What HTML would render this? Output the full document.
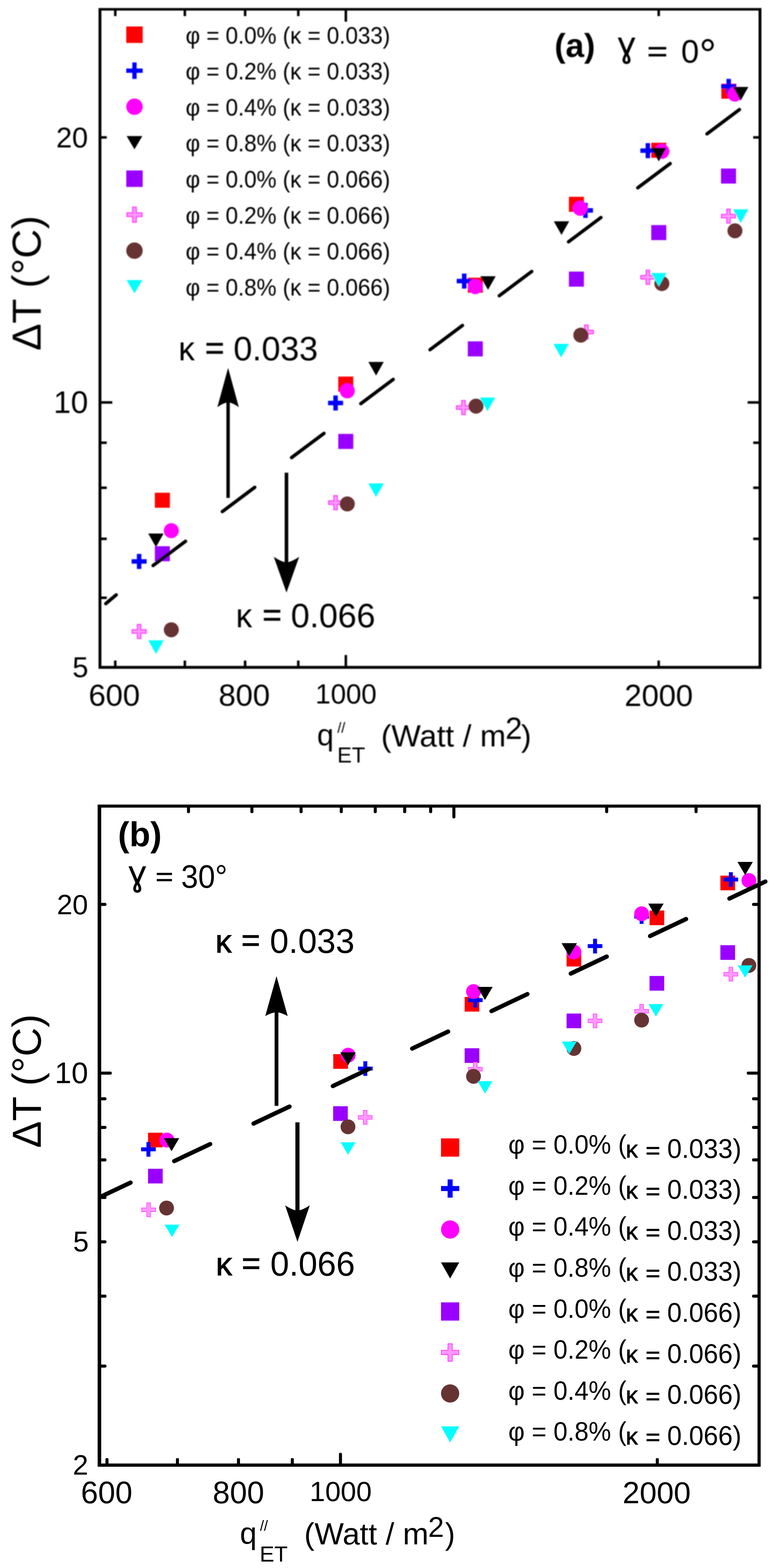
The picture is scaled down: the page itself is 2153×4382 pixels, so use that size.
<!DOCTYPE html>
<html lang="en">
<head>
<meta charset="utf-8">
<title>Temperature difference versus heat flux</title>
<style>
html,body{margin:0;padding:0;background:#fff;}
body{width:2153px;height:4382px;overflow:hidden;}
svg{display:block;}
text{font-family:"Liberation Sans", sans-serif;fill:#000;}
</style>
</head>
<body>
<svg width="2153" height="4382" viewBox="0 0 2153 4382">
<defs><filter id="soft" x="0" y="0" width="2153" height="2200" filterUnits="userSpaceOnUse"><feGaussianBlur stdDeviation="1.4"/></filter></defs>
<rect width="2153" height="4382" fill="#fff"/>
<g id="plot-a" filter="url(#soft)">
<rect x="433" y="1377" width="42" height="42" fill="#ff0000"/>
<rect x="945.8" y="1052.4" width="42" height="42" fill="#ff0000"/>
<rect x="1308" y="776" width="42" height="42" fill="#ff0000"/>
<rect x="1590.7" y="550" width="42" height="42" fill="#ff0000"/>
<rect x="1821" y="399" width="42" height="42" fill="#ff0000"/>
<rect x="2017" y="233.8" width="42" height="42" fill="#ff0000"/>
<path d="M382.75 1548h12.5v14.75h14.75v12.5h-14.75v14.75h-12.5v-14.75h-14.75v-12.5h14.75Z" fill="#0000ff"/>
<path d="M932.05 1105.2h12.5v14.75h14.75v12.5h-14.75v14.75h-12.5v-14.75h-14.75v-12.5h14.75Z" fill="#0000ff"/>
<path d="M1291.75 764.5h12.5v14.75h14.75v12.5h-14.75v14.75h-12.5v-14.75h-14.75v-12.5h14.75Z" fill="#0000ff"/>
<path d="M1630.75 567h12.5v14.75h14.75v12.5h-14.75v14.75h-12.5v-14.75h-14.75v-12.5h14.75Z" fill="#0000ff"/>
<path d="M1805.25 400h12.5v14.75h14.75v12.5h-14.75v14.75h-12.5v-14.75h-14.75v-12.5h14.75Z" fill="#0000ff"/>
<path d="M2031.25 220.4h12.5v14.75h14.75v12.5h-14.75v14.75h-12.5v-14.75h-14.75v-12.5h14.75Z" fill="#0000ff"/>
<circle cx="479" cy="1483" r="21" fill="#ff00ff"/>
<circle cx="971.1" cy="1092.3" r="21" fill="#ff00ff"/>
<circle cx="1329" cy="801" r="21" fill="#ff00ff"/>
<circle cx="1622" cy="582" r="21" fill="#ff00ff"/>
<circle cx="1850.6" cy="423" r="21" fill="#ff00ff"/>
<circle cx="2055" cy="263" r="21" fill="#ff00ff"/>
<path d="M414.5 1491H457.5L436 1529Z" fill="#000000"/>
<path d="M1030 1011.5H1073L1051.5 1049.5Z" fill="#000000"/>
<path d="M1343 772H1386L1364.5 810Z" fill="#000000"/>
<path d="M1548.5 618.5H1591.5L1570 656.5Z" fill="#000000"/>
<path d="M1820.5 413H1863.5L1842 451Z" fill="#000000"/>
<path d="M2049.5 243H2092.5L2071 281Z" fill="#000000"/>
<rect x="433" y="1526.5" width="42" height="42" fill="#9900ff"/>
<rect x="945.8" y="1212.6" width="42" height="42" fill="#9900ff"/>
<rect x="1308" y="954" width="42" height="42" fill="#9900ff"/>
<rect x="1590.7" y="759" width="42" height="42" fill="#9900ff"/>
<rect x="1821" y="629" width="42" height="42" fill="#9900ff"/>
<rect x="2016" y="471" width="42" height="42" fill="#9900ff"/>
<path d="M384.25 1745.2h9.5v14.75h14.75v9.5h-14.75v14.75h-9.5v-14.75h-14.75v-9.5h14.75Z" fill="#ff99ff" stroke="#ff33ff" stroke-width="3"/>
<path d="M933.55 1385.3h9.5v14.75h14.75v9.5h-14.75v14.75h-9.5v-14.75h-14.75v-9.5h14.75Z" fill="#ff99ff" stroke="#ff33ff" stroke-width="3"/>
<path d="M1291.25 1119.5h9.5v14.75h14.75v9.5h-14.75v14.75h-9.5v-14.75h-14.75v-9.5h14.75Z" fill="#ff99ff" stroke="#ff33ff" stroke-width="3"/>
<path d="M1634.75 908.5h9.5v14.75h14.75v9.5h-14.75v14.75h-9.5v-14.75h-14.75v-9.5h14.75Z" fill="#ff99ff" stroke="#ff33ff" stroke-width="3"/>
<path d="M1806.75 755.5h9.5v14.75h14.75v9.5h-14.75v14.75h-9.5v-14.75h-14.75v-9.5h14.75Z" fill="#ff99ff" stroke="#ff33ff" stroke-width="3"/>
<path d="M2032.25 584.5h9.5v14.75h14.75v9.5h-14.75v14.75h-9.5v-14.75h-14.75v-9.5h14.75Z" fill="#ff99ff" stroke="#ff33ff" stroke-width="3"/>
<circle cx="479" cy="1760" r="21" fill="#663333"/>
<circle cx="971.1" cy="1408.3" r="21" fill="#663333"/>
<circle cx="1331" cy="1135" r="21" fill="#663333"/>
<circle cx="1624" cy="936.6" r="21" fill="#663333"/>
<circle cx="1850.6" cy="792.4" r="21" fill="#663333"/>
<circle cx="2055" cy="645" r="21" fill="#663333"/>
<path d="M414.5 1789.5H457.5L436 1827.5Z" fill="#00ffff"/>
<path d="M1030 1351H1073L1051.5 1389Z" fill="#00ffff"/>
<path d="M1341.5 1111H1384.5L1363 1149Z" fill="#00ffff"/>
<path d="M1547.5 961H1590.5L1569 999Z" fill="#00ffff"/>
<path d="M1820.5 763H1863.5L1842 801Z" fill="#00ffff"/>
<path d="M2049.5 585H2092.5L2071 623Z" fill="#00ffff"/>
<path d="M295.7 1687L325 1662.4M428 1580.5L518.7 1512.7M621.6 1429.7L712.3 1361.9M815.2 1278.9L905.9 1211.1M1008.8 1128.1L1099.5 1060.3M1202.4 977.3L1293.1 909.5M1396 826.5L1486.7 758.7M1589.6 675.7L1680.3 607.9M1783.2 524.9L1873.9 457.1M1976.8 374.1L2067.5 306.3" stroke="#000" stroke-width="9.5" stroke-linecap="round" fill="none"/>
<rect x="353" y="74" width="46" height="46" fill="#ff0000"/>
<text x="519" y="121.5" font-size="66" textLength="572" lengthAdjust="spacingAndGlyphs">φ = 0.0% (κ = 0.033)</text>
<path d="M370 174.6h12v17h17v12h-17v17h-12v-17h-17v-12h17Z" fill="#0000ff"/>
<text x="519" y="222.1" font-size="66" textLength="572" lengthAdjust="spacingAndGlyphs">φ = 0.2% (κ = 0.033)</text>
<circle cx="376" cy="298.2" r="23" fill="#ff00ff"/>
<text x="519" y="322.7" font-size="66" textLength="572" lengthAdjust="spacingAndGlyphs">φ = 0.4% (κ = 0.033)</text>
<path d="M354 380.3H398L376 417.3Z" fill="#000000"/>
<text x="519" y="423.3" font-size="66" textLength="572" lengthAdjust="spacingAndGlyphs">φ = 0.8% (κ = 0.033)</text>
<rect x="353" y="476.4" width="46" height="46" fill="#9900ff"/>
<text x="519" y="523.9" font-size="66" textLength="572" lengthAdjust="spacingAndGlyphs">φ = 0.0% (κ = 0.066)</text>
<path d="M371 579h10v16h16v10h-16v16h-10v-16h-16v-10h16Z" fill="#ff99ff" stroke="#ff33ff" stroke-width="3"/>
<text x="519" y="624.5" font-size="66" textLength="572" lengthAdjust="spacingAndGlyphs">φ = 0.2% (κ = 0.066)</text>
<circle cx="376" cy="700.6" r="23" fill="#663333"/>
<text x="519" y="725.1" font-size="66" textLength="572" lengthAdjust="spacingAndGlyphs">φ = 0.4% (κ = 0.066)</text>
<path d="M354 782.7H398L376 819.7Z" fill="#00ffff"/>
<text x="519" y="825.7" font-size="66" textLength="572" lengthAdjust="spacingAndGlyphs">φ = 0.8% (κ = 0.066)</text>
<path d="M637.8 1391.5V1122" stroke="#000" stroke-width="9.5" fill="none"/><path d="M637.8 1028Q622.8 1083 607.8 1138Q624.3 1126.1 637.8 1124Q651.3 1126.1 667.8 1138Q652.8 1083 637.8 1028Z" fill="#000"/>
<path d="M801 1321V1574" stroke="#000" stroke-width="10" fill="none"/><path d="M801 1656Q783.25 1606 765.5 1556Q785.02 1569.6 801 1572Q816.98 1569.6 836.5 1556Q818.75 1606 801 1656Z" fill="#000"/>
<text transform="translate(499.07 1006.5) scale(0.9700 1.0000)" font-size="94">κ</text>
<text transform="translate(573.41 1002.88) scale(1 0.9605)" font-size="91.75" stroke="#000" stroke-width="1.6">=</text>
<text transform="translate(652.72 1006.5) scale(1.0045 1.0000)" font-size="94">0.033</text>
<text transform="translate(659.57 1753) scale(0.9700 1.0000)" font-size="94">κ</text>
<text transform="translate(733.91 1749.38) scale(1 0.9605)" font-size="91.75" stroke="#000" stroke-width="1.6">=</text>
<text transform="translate(813.22 1753) scale(1.0045 1.0000)" font-size="94">0.066</text>
<text x="1550.5" y="159" font-size="93" font-weight="bold">(a)</text>
<text x="1727" y="158" font-size="100">ɣ</text>
<text transform="translate(1809.58 170.28) scale(1 0.7944)" font-size="98.35" stroke="#000" stroke-width="1.6">=</text>
<text x="1904.4" y="174.5" font-size="90">0</text>
<text x="1955.1" y="194.2" font-size="120">°</text>
<rect x="318.81" y="26" width="7" height="19" rx="0" fill="#000"/>
<rect x="318.81" y="1846" width="7" height="19" rx="0" fill="#000"/>
<rect x="513.35" y="26" width="7" height="19" rx="0" fill="#000"/>
<rect x="513.35" y="1846" width="7" height="19" rx="0" fill="#000"/>
<rect x="681.88" y="26" width="7" height="19" rx="0" fill="#000"/>
<rect x="681.88" y="1846" width="7" height="19" rx="0" fill="#000"/>
<rect x="830.53" y="26" width="7" height="19" rx="0" fill="#000"/>
<rect x="830.53" y="1846" width="7" height="19" rx="0" fill="#000"/>
<rect x="963.5" y="26" width="7" height="34.5" rx="0" fill="#000"/>
<rect x="963.5" y="1830.5" width="7" height="34.5" rx="0" fill="#000"/>
<rect x="1838.29" y="26" width="7" height="19" rx="0" fill="#000"/>
<rect x="1838.29" y="1846" width="7" height="19" rx="0" fill="#000"/>
<rect x="279.5" y="380.5" width="19" height="7" rx="0" fill="#000"/>
<rect x="2106" y="380.5" width="19" height="7" rx="0" fill="#000"/>
<rect x="279.5" y="1121.18" width="34.5" height="7" rx="0" fill="#000"/>
<rect x="2090.5" y="1121.18" width="34.5" height="7" rx="0" fill="#000"/>
<rect x="279.5" y="1233.77" width="19" height="7" rx="0" fill="#000"/>
<rect x="2106" y="1233.77" width="19" height="7" rx="0" fill="#000"/>
<rect x="279.5" y="1359.63" width="19" height="7" rx="0" fill="#000"/>
<rect x="2106" y="1359.63" width="19" height="7" rx="0" fill="#000"/>
<rect x="279.5" y="1502.32" width="19" height="7" rx="0" fill="#000"/>
<rect x="2106" y="1502.32" width="19" height="7" rx="0" fill="#000"/>
<rect x="279.5" y="1667.04" width="19" height="7" rx="0" fill="#000"/>
<rect x="2106" y="1667.04" width="19" height="7" rx="0" fill="#000"/>
<path fill-rule="evenodd" fill="#000" d="M275.5 22.4H2129V1869H275.5ZM283.5 29.6V1861H2121V29.6Z"/>
<text x="246" y="411.5" font-size="80" text-anchor="end">20</text>
<text x="246.5" y="1154" font-size="87" text-anchor="end">10</text>
<text x="247" y="1891.5" font-size="80" text-anchor="end">5</text>
<text x="319.5" y="1972" font-size="86" text-anchor="middle">600</text>
<text x="683" y="1972" font-size="86" text-anchor="middle">800</text>
<text x="967.5" y="1965.5" font-size="77" text-anchor="middle">1000</text>
<text x="1842" y="1973" font-size="86" text-anchor="middle">2000</text>
<text transform="translate(113.5 980) rotate(-90)" font-size="113.5">ΔT (°C)</text>
<text x="886.5" y="2083" font-size="84">q</text>
<text x="943.2" y="2047.5" font-size="40">//</text>
<text x="943" y="2131" font-size="61">ET</text>
<text x="1065.5" y="2085.5" font-size="86" textLength="349" lengthAdjust="spacingAndGlyphs">(Watt / m</text>
<text x="1413" y="2065" font-size="85">2</text>
<text x="1457" y="2085.5" font-size="86">)</text>
</g>
<g id="plot-b">
<rect x="413.9" y="3165.5" width="41" height="41" fill="#ff0000"/>
<rect x="931.9" y="2945.9" width="41" height="41" fill="#ff0000"/>
<rect x="1299.2" y="2786" width="41" height="41" fill="#ff0000"/>
<rect x="1584.2" y="2660" width="41" height="41" fill="#ff0000"/>
<rect x="1816.2" y="2544.5" width="41" height="41" fill="#ff0000"/>
<rect x="2014.3" y="2447.1" width="41" height="41" fill="#ff0000"/>
<path d="M409.5 3191.5h11v15h15v11h-15v15h-11v-15h-15v-11h15Z" fill="#0000ff"/>
<path d="M1016 2965.8h11v15h15v11h-15v15h-11v-15h-15v-11h15Z" fill="#0000ff"/>
<path d="M1323.5 2774.5h11v15h15v11h-15v15h-11v-15h-15v-11h15Z" fill="#0000ff"/>
<path d="M1658.3 2623.5h11v15h15v11h-15v15h-11v-15h-15v-11h15Z" fill="#0000ff"/>
<path d="M1788.5 2540.9h11v15h15v11h-15v15h-11v-15h-15v-11h15Z" fill="#0000ff"/>
<path d="M2038 2437.5h11v15h15v11h-15v15h-11v-15h-15v-11h15Z" fill="#0000ff"/>
<circle cx="466.6" cy="3186" r="20.75" fill="#ff00ff"/>
<circle cx="973.5" cy="2948.8" r="20.75" fill="#ff00ff"/>
<circle cx="1324" cy="2771" r="20.75" fill="#ff00ff"/>
<circle cx="1604.7" cy="2660.5" r="20.75" fill="#ff00ff"/>
<circle cx="1794" cy="2553.6" r="20.75" fill="#ff00ff"/>
<circle cx="2094" cy="2460.7" r="20.75" fill="#ff00ff"/>
<path d="M458.1 3180.85H501.1L479.6 3217.35Z" fill="#000000"/>
<path d="M951.6 2941.05H994.6L973.1 2977.55Z" fill="#000000"/>
<path d="M1334.5 2758.05H1377.5L1356 2794.55Z" fill="#000000"/>
<path d="M1570.2 2635.75H1613.2L1591.7 2672.25Z" fill="#000000"/>
<path d="M1812.5 2525.15H1855.5L1834 2561.65Z" fill="#000000"/>
<path d="M2062 2408.75H2105L2083.5 2445.25Z" fill="#000000"/>
<rect x="413.9" y="3266.3" width="41" height="41" fill="#9900ff"/>
<rect x="931.5" y="3091.5" width="41" height="41" fill="#9900ff"/>
<rect x="1299.2" y="2929.5" width="41" height="41" fill="#9900ff"/>
<rect x="1584.2" y="2832.5" width="41" height="41" fill="#9900ff"/>
<rect x="1816.2" y="2727.5" width="41" height="41" fill="#9900ff"/>
<rect x="2014.3" y="2641.5" width="41" height="41" fill="#9900ff"/>
<path d="M410.35 3361.5h10.5v14.25h14.25v10.5h-14.25v14.25h-10.5v-14.25h-14.25v-10.5h14.25Z" fill="#ff99ff" stroke="#ff33ff" stroke-width="1.5"/>
<path d="M1015.75 3103.2h10.5v14.25h14.25v10.5h-14.25v14.25h-10.5v-14.25h-14.25v-10.5h14.25Z" fill="#ff99ff" stroke="#ff33ff" stroke-width="1.5"/>
<path d="M1323.75 2968.5h10.5v14.25h14.25v10.5h-14.25v14.25h-10.5v-14.25h-14.25v-10.5h14.25Z" fill="#ff99ff" stroke="#ff33ff" stroke-width="1.5"/>
<path d="M1658.55 2833.5h10.5v14.25h14.25v10.5h-14.25v14.25h-10.5v-14.25h-14.25v-10.5h14.25Z" fill="#ff99ff" stroke="#ff33ff" stroke-width="1.5"/>
<path d="M1788.75 2806.5h10.5v14.25h14.25v10.5h-14.25v14.25h-10.5v-14.25h-14.25v-10.5h14.25Z" fill="#ff99ff" stroke="#ff33ff" stroke-width="1.5"/>
<path d="M2038.25 2703h10.5v14.25h14.25v10.5h-14.25v14.25h-10.5v-14.25h-14.25v-10.5h14.25Z" fill="#ff99ff" stroke="#ff33ff" stroke-width="1.5"/>
<circle cx="465.7" cy="3376" r="20.75" fill="#663333"/>
<circle cx="973" cy="3149" r="20.75" fill="#663333"/>
<circle cx="1324" cy="3008" r="20.75" fill="#663333"/>
<circle cx="1604.7" cy="2930" r="20.75" fill="#663333"/>
<circle cx="1794" cy="2850.8" r="20.75" fill="#663333"/>
<circle cx="2094" cy="2698" r="20.75" fill="#663333"/>
<path d="M460.15 3422.45H501.65L480.9 3456.95Z" fill="#00ffff"/>
<path d="M952.35 3192.35H993.85L973.1 3226.85Z" fill="#00ffff"/>
<path d="M1335.45 3021.45H1376.95L1356.2 3055.95Z" fill="#00ffff"/>
<path d="M1570.95 2910.75H1612.45L1591.7 2945.25Z" fill="#00ffff"/>
<path d="M1813.25 2806.25H1854.75L1834 2840.75Z" fill="#00ffff"/>
<path d="M2062.75 2697.75H2104.25L2083.5 2732.25Z" fill="#00ffff"/>
<path d="M279 3345.6L365 3305M487.2 3244.8L587.7 3197.3M708.96 3139.99L809.46 3092.49M930.72 3035.18L1031.22 2987.68M1152.48 2930.37L1252.98 2882.87M1374.24 2825.56L1474.74 2778.06M1596 2720.75L1696.5 2673.25M1817.76 2615.94L1918.26 2568.44M2039.52 2511.13L2140.02 2463.63" stroke="#000" stroke-width="12" stroke-linecap="round" fill="none"/>
<rect x="1233.1" y="3181.4" width="51" height="51" fill="#ff0000"/>
<text transform="translate(1421.17 3224.3) scale(0.9618 1.0000)" font-size="73.5">φ = 0.0% (</text>
<text x="1749.55" y="3235" font-size="68.5" stroke="#000" stroke-width="1.1">κ</text>
<text transform="translate(1805.31 3235.51) scale(1 0.8673)" font-size="69.9" stroke="#000" stroke-width="1.6">=</text>
<text transform="translate(1865.47 3235.8) scale(0.9631 1.0000)" font-size="76">0.033)</text>
<path d="M1251.6 3295.95h14v18.5h18.5v14h-18.5v18.5h-14v-18.5h-18.5v-14h18.5Z" fill="#0000ff"/>
<text transform="translate(1421.17 3338.85) scale(0.9618 1.0000)" font-size="73.5">φ = 0.2% (</text>
<text x="1749.55" y="3349.55" font-size="68.5" stroke="#000" stroke-width="1.1">κ</text>
<text transform="translate(1805.31 3350.06) scale(1 0.8673)" font-size="69.9" stroke="#000" stroke-width="1.6">=</text>
<text transform="translate(1865.47 3350.35) scale(0.9631 1.0000)" font-size="76">0.033)</text>
<circle cx="1258.6" cy="3436" r="25.5" fill="#ff00ff"/>
<text transform="translate(1421.17 3453.4) scale(0.9618 1.0000)" font-size="73.5">φ = 0.4% (</text>
<text x="1749.55" y="3464.1" font-size="68.5" stroke="#000" stroke-width="1.1">κ</text>
<text transform="translate(1805.31 3464.61) scale(1 0.8673)" font-size="69.9" stroke="#000" stroke-width="1.6">=</text>
<text transform="translate(1865.47 3464.9) scale(0.9631 1.0000)" font-size="76">0.033)</text>
<path d="M1233.1 3528.05H1284.1L1258.6 3573.05Z" fill="#000000"/>
<text transform="translate(1421.17 3567.95) scale(0.9618 1.0000)" font-size="73.5">φ = 0.8% (</text>
<text x="1749.55" y="3578.65" font-size="68.5" stroke="#000" stroke-width="1.1">κ</text>
<text transform="translate(1805.31 3579.16) scale(1 0.8673)" font-size="69.9" stroke="#000" stroke-width="1.6">=</text>
<text transform="translate(1865.47 3579.45) scale(0.9631 1.0000)" font-size="76">0.033)</text>
<rect x="1233.1" y="3639.6" width="51" height="51" fill="#9900ff"/>
<text transform="translate(1421.17 3682.5) scale(0.9618 1.0000)" font-size="73.5">φ = 0.0% (</text>
<text x="1749.55" y="3693.2" font-size="68.5" stroke="#000" stroke-width="1.1">κ</text>
<text transform="translate(1805.31 3693.71) scale(1 0.8673)" font-size="69.9" stroke="#000" stroke-width="1.6">=</text>
<text transform="translate(1865.47 3694) scale(0.9631 1.0000)" font-size="76">0.066)</text>
<path d="M1252.6 3755.15h12v18.5h18.5v12h-18.5v18.5h-12v-18.5h-18.5v-12h18.5Z" fill="#ff99ff" stroke="#ff33ff" stroke-width="2"/>
<text transform="translate(1421.17 3797.05) scale(0.9618 1.0000)" font-size="73.5">φ = 0.2% (</text>
<text x="1749.55" y="3807.75" font-size="68.5" stroke="#000" stroke-width="1.1">κ</text>
<text transform="translate(1805.31 3808.26) scale(1 0.8673)" font-size="69.9" stroke="#000" stroke-width="1.6">=</text>
<text transform="translate(1865.47 3808.55) scale(0.9631 1.0000)" font-size="76">0.066)</text>
<circle cx="1258.6" cy="3894.2" r="25.5" fill="#663333"/>
<text transform="translate(1421.17 3911.6) scale(0.9618 1.0000)" font-size="73.5">φ = 0.4% (</text>
<text x="1749.55" y="3922.3" font-size="68.5" stroke="#000" stroke-width="1.1">κ</text>
<text transform="translate(1805.31 3922.81) scale(1 0.8673)" font-size="69.9" stroke="#000" stroke-width="1.6">=</text>
<text transform="translate(1865.47 3923.1) scale(0.9631 1.0000)" font-size="76">0.066)</text>
<path d="M1233.1 3986.25H1284.1L1258.6 4031.25Z" fill="#00ffff"/>
<text transform="translate(1421.17 4026.15) scale(0.9618 1.0000)" font-size="73.5">φ = 0.8% (</text>
<text x="1749.55" y="4036.85" font-size="68.5" stroke="#000" stroke-width="1.1">κ</text>
<text transform="translate(1805.31 4037.36) scale(1 0.8673)" font-size="69.9" stroke="#000" stroke-width="1.6">=</text>
<text transform="translate(1865.47 4037.65) scale(0.9631 1.0000)" font-size="76">0.066)</text>
<path d="M773.1 3090.6V2826.6" stroke="#000" stroke-width="10.5" fill="none"/><path d="M773.1 2727.9Q757.4 2783.75 741.7 2839.6Q758.97 2830.25 773.1 2828.6Q787.23 2830.25 804.5 2839.6Q788.8 2783.75 773.1 2727.9Z" fill="#000"/>
<path d="M831.7 3136.6V3385.6" stroke="#000" stroke-width="11.5" fill="none"/><path d="M831.7 3470.4Q814.45 3419.5 797.2 3368.6Q816.18 3381.35 831.7 3383.6Q847.23 3381.35 866.2 3368.6Q848.95 3419.5 831.7 3470.4Z" fill="#000"/>
<text x="602.28" y="2662" font-size="91" stroke="#000" stroke-width="1.6">κ</text>
<text transform="translate(674.78 2658.39) scale(1 0.9827)" font-size="90.31" stroke="#000" stroke-width="1.6">=</text>
<text transform="translate(754.51 2662.5) scale(0.9755 1.0000)" font-size="97">0.033</text>
<text x="603.59" y="3564.3" font-size="91" stroke="#000" stroke-width="1.6">κ</text>
<text transform="translate(676.08 3560.69) scale(1 0.9827)" font-size="90.31" stroke="#000" stroke-width="1.6">=</text>
<text transform="translate(755.81 3564.8) scale(0.9755 1.0000)" font-size="97">0.066</text>
<text x="329.7" y="2365.2" font-size="96" font-weight="bold">(b)</text>
<text x="358.9" y="2474.2" font-size="100">ɣ</text>
<text transform="translate(435.08 2473.54) scale(1 0.8190)" font-size="84.33" stroke="#000" stroke-width="1.6">=</text>
<text transform="translate(506.38 2481) scale(0.9443 1.0000)" font-size="90.5">30°</text>
<rect x="522.78" y="2252.7" width="8.5" height="19.7" rx="4" fill="#000"/>
<rect x="700.09" y="2252.7" width="8.5" height="19.7" rx="4" fill="#000"/>
<rect x="837.63" y="2252.7" width="8.5" height="19.7" rx="4" fill="#000"/>
<rect x="950" y="2252.7" width="8.5" height="19.7" rx="4" fill="#000"/>
<rect x="1045.01" y="2252.7" width="8.5" height="19.7" rx="4" fill="#000"/>
<rect x="1127.32" y="2252.7" width="8.5" height="19.7" rx="4" fill="#000"/>
<rect x="1199.91" y="2252.7" width="8.5" height="19.7" rx="4" fill="#000"/>
<rect x="1264.85" y="2252.7" width="8.5" height="34.5" rx="4" fill="#000"/>
<rect x="1692.07" y="2252.7" width="8.5" height="19.7" rx="4" fill="#000"/>
<rect x="1941.98" y="2252.7" width="8.5" height="19.7" rx="4" fill="#000"/>
<rect x="294.87" y="4074.8" width="8.5" height="19.7" rx="4" fill="#000"/>
<rect x="491.89" y="4074.8" width="8.5" height="19.7" rx="4" fill="#000"/>
<rect x="662.55" y="4074.8" width="8.5" height="19.7" rx="4" fill="#000"/>
<rect x="813.09" y="4074.8" width="8.5" height="19.7" rx="4" fill="#000"/>
<rect x="947.75" y="4060" width="8.5" height="34.5" rx="4" fill="#000"/>
<rect x="1833.65" y="4074.8" width="8.5" height="19.7" rx="4" fill="#000"/>
<rect x="278" y="2523.34" width="19.7" height="8.5" rx="4" fill="#000"/>
<rect x="2102.8" y="2523.34" width="19.7" height="8.5" rx="4" fill="#000"/>
<rect x="278" y="2994.75" width="34.5" height="8.5" rx="4" fill="#000"/>
<rect x="2088" y="2994.75" width="34.5" height="8.5" rx="4" fill="#000"/>
<rect x="278" y="3066.41" width="19.7" height="8.5" rx="4" fill="#000"/>
<rect x="2102.8" y="3066.41" width="19.7" height="8.5" rx="4" fill="#000"/>
<rect x="278" y="3146.51" width="19.7" height="8.5" rx="4" fill="#000"/>
<rect x="2102.8" y="3146.51" width="19.7" height="8.5" rx="4" fill="#000"/>
<rect x="278" y="3237.33" width="19.7" height="8.5" rx="4" fill="#000"/>
<rect x="2102.8" y="3237.33" width="19.7" height="8.5" rx="4" fill="#000"/>
<rect x="278" y="3342.17" width="19.7" height="8.5" rx="4" fill="#000"/>
<rect x="2102.8" y="3342.17" width="19.7" height="8.5" rx="4" fill="#000"/>
<rect x="278" y="3466.16" width="19.7" height="8.5" rx="4" fill="#000"/>
<rect x="2102.8" y="3466.16" width="19.7" height="8.5" rx="4" fill="#000"/>
<rect x="278" y="3617.92" width="19.7" height="8.5" rx="4" fill="#000"/>
<rect x="2102.8" y="3617.92" width="19.7" height="8.5" rx="4" fill="#000"/>
<rect x="278" y="3813.58" width="19.7" height="8.5" rx="4" fill="#000"/>
<rect x="2102.8" y="3813.58" width="19.7" height="8.5" rx="4" fill="#000"/>
<path fill-rule="evenodd" fill="#000" d="M273 2248.45H2126.9V4098.9H273ZM283 2256.95V4090.1H2118.1V2256.95Z"/>
<text x="158.91" y="2554.7" font-size="78.5">20</text>
<text x="153" y="3027.4" font-size="84">10</text>
<text x="204.22" y="3497.3" font-size="79">5</text>
<text x="203.51" y="4121.2" font-size="78">2</text>
<text transform="translate(226.26 4201.4) scale(0.9800 1.0000)" font-size="88">600</text>
<text transform="translate(594.77 4201.4) scale(0.9800 1.0000)" font-size="88">800</text>
<text x="865.86" y="4195" font-size="78">1000</text>
<text x="1740.83" y="4201" font-size="85.7">2000</text>
<text transform="translate(113.9 3208.2) rotate(-90)" font-size="112.5">ΔT (°C)</text>
<text x="670.8" y="4313.7" font-size="85">q</text>
<text x="727" y="4277.5" font-size="40">//</text>
<text x="726.08" y="4363.8" font-size="61.5">ET</text>
<text transform="translate(850.61 4315.5) scale(1.0186 1.0000)" font-size="85">(Watt / m</text>
<text x="1196.9" y="4294.5" font-size="80">2</text>
<text x="1244.25" y="4315.5" font-size="85">)</text>
</g>
</svg>
</body>
</html>
